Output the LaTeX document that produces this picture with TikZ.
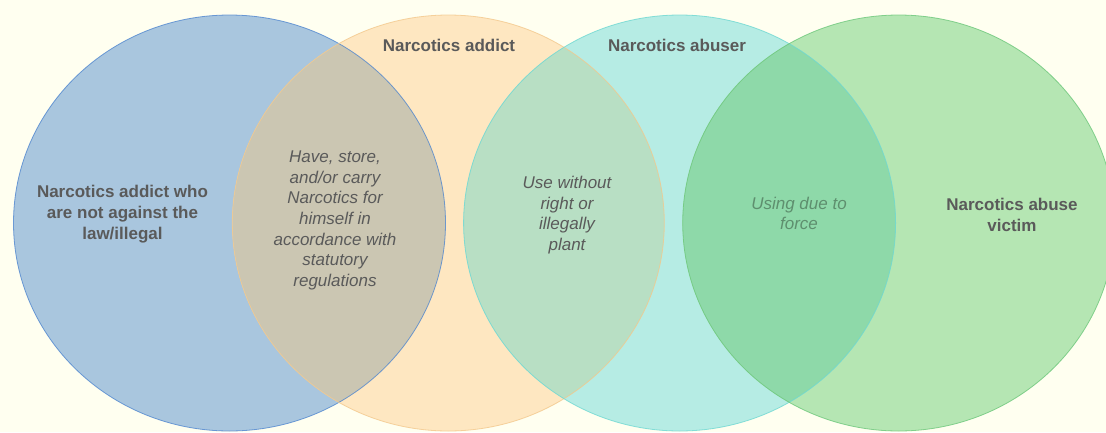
\documentclass[tikz,border=0pt]{standalone}
\usepackage{fontspec}
\setmainfont{Liberation Sans}
\usetikzlibrary{positioning}
\definecolor{bgc}{HTML}{FFFFF0}
\definecolor{bluef}{HTML}{A9C6DE}
\definecolor{orangef}{HTML}{FEE7C1}
\definecolor{cyanf}{HTML}{B6ECE4}
\definecolor{greenf}{HTML}{B5E6B3}
\definecolor{bo}{HTML}{CBC6B2}
\definecolor{oc}{HTML}{B8DFC4}
\definecolor{cg}{HTML}{8ED9A9}
\definecolor{blueb}{HTML}{4F86CF}
\definecolor{orangeb}{HTML}{F3C88C}
\definecolor{cyanb}{HTML}{6ED8D2}
\definecolor{greenb}{HTML}{6CC77A}
\definecolor{txt}{HTML}{5A5A5A}
\definecolor{txtg}{HTML}{5E8F6E}
\tikzset{
  lbl/.style={text=txt, align=center, font=\fontsize{17}{20.8}\selectfont\bfseries, inner sep=0pt},
  itl/.style={text=txt, align=center, font=\fontsize{17}{20.6}\selectfont\itshape, inner sep=0pt},
  edge/.style={line width=0.8pt, draw opacity=0.8}
}
\def\CY{223}
\def\RX{216pt}
\def\RY{208pt}
\begin{document}
\begin{tikzpicture}[x=1pt,y=-1pt]
\useasboundingbox (0,0) rectangle (1106,432);
\clip (0,0) rectangle (1106,432);
\fill[bgc] (0,0) rectangle (1106,432);
% solid fills
\fill[bluef] (229.5,\CY) ellipse [x radius=\RX, y radius=\RY];
\fill[orangef] (448.3,\CY) ellipse [x radius=\RX, y radius=\RY];
\fill[cyanf] (679.6,\CY) ellipse [x radius=\RX, y radius=\RY];
\fill[greenf] (898.7,\CY) ellipse [x radius=\RX, y radius=\RY];
% overlaps
\begin{scope}
  \clip (229.5,\CY) ellipse [x radius=\RX, y radius=\RY];
  \fill[bo] (448.3,\CY) ellipse [x radius=\RX, y radius=\RY];
\end{scope}
\begin{scope}
  \clip (448.3,\CY) ellipse [x radius=\RX, y radius=\RY];
  \fill[oc] (679.6,\CY) ellipse [x radius=\RX, y radius=\RY];
\end{scope}
\begin{scope}
  \clip (679.6,\CY) ellipse [x radius=\RX, y radius=\RY];
  \fill[cg] (898.7,\CY) ellipse [x radius=\RX, y radius=\RY];
\end{scope}
% borders
\draw[edge, draw=blueb] (229.5,\CY) ellipse [x radius=\RX, y radius=\RY];
\draw[edge, draw=orangeb] (448.3,\CY) ellipse [x radius=\RX, y radius=\RY];
\draw[edge, draw=cyanb] (679.6,\CY) ellipse [x radius=\RX, y radius=\RY];
\draw[edge, draw=greenb] (898.7,\CY) ellipse [x radius=\RX, y radius=\RY];
% labels
\node[lbl] (tAddict) at (449,45.5) {Narcotics addict};
\node[lbl] (tAbuser) at (677,45.5) {Narcotics abuser};
\node[lbl] (tLegal) at (122.5,214) {Narcotics addict who\\are not against the\\law/illegal};
\node[lbl] (tVictim) at (1012,215) {Narcotics abuse\\victim};
\node[itl] (tHave) at (335,220.5) {Have, store,\\and/or carry\\Narcotics for\\himself in\\accordance with\\statutory\\regulations};
\node[itl] (tUse) at (567,215) {Use without\\right or\\illegally\\plant};
\node[itl, text=txtg] (tForce) at (799,213.5) {Using due to\\force};
\end{tikzpicture}
\end{document}
